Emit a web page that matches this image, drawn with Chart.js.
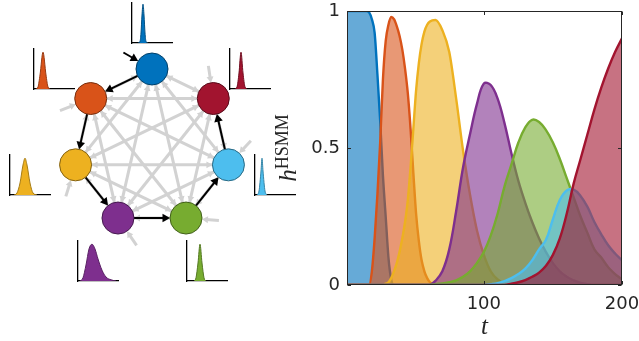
<!DOCTYPE html>
<html>
<head>
<meta charset="utf-8">
<script src="https://cdn.jsdelivr.net/npm/chart.js@4/dist/chart.umd.min.js"></script>
<style>
html,body{margin:0;padding:0;background:#fff;width:639px;height:341px;overflow:hidden;position:relative}
canvas{position:absolute}
#ylab{position:absolute;left:287px;top:148px;transform:translate(-50%,-50%) rotate(-90deg);white-space:nowrap;
  font-family:'Liberation Serif','DejaVu Serif',serif;color:#262626;line-height:1}
#ylab i{font-size:25px}
#ylab sup{font-size:18px;position:relative;top:-2px;vertical-align:top}
</style>
</head>
<body>
<canvas id="graph" width="280" height="341" style="left:0;top:0;width:280px;height:341px"></canvas>
<canvas id="main" width="359" height="341" style="left:280px;top:0;width:359px;height:341px"></canvas>
<div id="ylab"><i>h</i><sup>HSMM</sup></div>
<script>
// ---------------- data: main plot ----------------
const t = [1,3,5,7,9,11,13,15,17,19,21,23,25,27,29,31,33,35,37,39,41,43,45,47,49,51,53,55,57,59,61,
  65,70,75,80,85,90,95,100,105,110,115,120,125,130,135,140,145,150,155,160,165,170,175,180,185,190,195,200];

const hBlue = [1,1,1,1,1,1,1,1, 0.995,0.97,0.92,0.77,0.6,0.4,0.25,0.1,0.02,
  0,0,0,0,0,0,0,0,0,0,0,0,0,0,
  0,0,0,0,0,0,0,0,0,0,0,0,0,0,0,0,0,0,0,0,0,0,0,0,0,0,0,0];
const hOrange = [0,0,0,0,0,0,0,0, 0,0.05,0.17,0.33,0.52,0.75,0.89,0.95,0.978,0.97,0.945,0.91,0.86,0.79,0.7,0.57,0.41,0.26,0.16,0.09,0.05,0.025,0.01,
  0,0,0,0,0,0,0,0,0,0,0,0,0,0,0,0,0,0,0,0,0,0,0,0,0,0,0,0];
const hYellow = [0,0,0,0,0,0,0,0,0,0,0,0,0,0, 0.005,0.01,0.025,0.05,0.08,0.12,0.17,0.23,0.31,0.43,0.57,0.71,0.81,0.88,0.925,0.95,0.962,
  0.967,0.93,0.85,0.68,0.49,0.33,0.2,0.11,0.05,0.02,0.005,
  0,0,0,0,0,0,0,0,0,0,0,0,0,0,0,0,0];
const hPurple = [0,0,0,0,0,0,0,0,0,0,0,0,0,0,0,0,0,0,0,0,0,0,0,0,0,0,0,0,0,0,0,
  0.015,0.05,0.13,0.27,0.43,0.55,0.66,0.735,0.73,0.68,0.59,0.48,0.38,0.3,0.23,0.17,0.12,0.08,0.05,0.03,0.017,0.008,0.003,
  0,0,0,0,0];
const hGreen = [0,0,0,0,0,0,0,0,0,0,0,0,0,0,0,0,0,0,0,0,0,0,0,0,0,0,0,0,0,0,0,
  0.003,0.006,0.01,0.017,0.03,0.05,0.08,0.12,0.18,0.26,0.36,0.44,0.52,0.575,0.603,0.595,0.565,0.52,0.46,0.39,0.32,0.25,0.19,0.13,0.1,0.065,0.04,0.02];
const hCyan = [0,0,0,0,0,0,0,0,0,0,0,0,0,0,0,0,0,0,0,0,0,0,0,0,0,0,0,0,0,0,0,
  0,0,0,0,0,0,0,0,
  0.003,0.007,0.014,0.025,0.04,0.06,0.09,0.13,0.165,0.24,0.31,0.345,0.348,0.325,0.285,0.23,0.185,0.145,0.115,0.09];
const hRed = [0,0,0,0,0,0,0,0,0,0,0,0,0,0,0,0,0,0,0,0,0,0,0,0,0,0,0,0,0,0,0,
  0,0,0,0,0,0,0,0,0,0,0,
  0.005,0.01,0.018,0.03,0.045,0.07,0.11,0.17,0.26,0.37,0.46,0.55,0.64,0.72,0.79,0.85,0.9];

const xTickValues = [100, 200];
const yTickValues = [0, 0.5, 1];

// ---------------- data: duration distributions (insets) ----------------
// [offset, relative height] pairs, node order: blue, dark red, light blue, green, purple, yellow, orange
const durBlue   = [[6,0],[8,0.04],[9,0.25],[10,0.7],[11,0.97],[12,0.7],[13,0.25],[14,0.04],[16,0]];
const durRed    = [[5,0],[7,0.05],[9,0.4],[11,0.92],[13,0.4],[15,0.05],[17,0]];
const durCyan   = [[2,0],[4,0.1],[6,0.6],[7,0.92],[8,0.6],[10,0.1],[12,0]];
const durGreen  = [[7,0],[9,0.08],[11,0.45],[13,0.92],[15,0.45],[17,0.08],[19,0]];
const durPurple = [[2,0],[5,0.08],[8,0.4],[11,0.8],[14,0.92],[17,0.8],[20,0.55],[24,0.27],[28,0.1],[33,0.03],[38,0]];
const durYellow = [[4,0],[7,0.05],[10,0.3],[13,0.75],[15,0.92],[17,0.75],[20,0.3],[23,0.05],[27,0]];
const durOrange = [[2,0],[4,0.05],[6,0.35],[9,0.92],[12,0.35],[14,0.05],[16,0]];

// ---------------- styles ----------------
const seriesColors = ['#0072BD','#D95319','#EDB120','#7E2F8E','#77AC30','#4DBEEE','#A2142F'];
const seriesData = [hBlue,hOrange,hYellow,hPurple,hGreen,hCyan,hRed];
function rgba(hex,a){const n=parseInt(hex.slice(1),16);return `rgba(${n>>16},${(n>>8)&255},${n&255},${a})`;}
function shade(hex,f){const n=parseInt(hex.slice(1),16);const c=[n>>16,(n>>8)&255,n&255].map(v=>Math.round(v*f));return `rgb(${c[0]},${c[1]},${c[2]})`;}
const noPad = s=>{s.paddingLeft=0;s.paddingRight=0;s.paddingTop=0;s.paddingBottom=0;};

// ---------------- main plot ----------------
const boxPlugin = {
  id:'box',
  afterDatasetsDraw(chart){
    const {ctx, chartArea:a, scales:{x,y}} = chart;
    ctx.save();
    ctx.strokeStyle='#262626'; ctx.lineWidth=1;
    const L=Math.round(a.left)+0.5, R=Math.round(a.right)-0.5, T=Math.round(a.top)+0.5, B=Math.round(a.bottom)-0.5;
    ctx.strokeRect(L,T,R-L,B-T);
    ctx.beginPath();
    xTickValues.forEach(v=>{const p=Math.round(x.getPixelForValue(v))+0.5;ctx.moveTo(p,T);ctx.lineTo(p,T+3.5);ctx.moveTo(p,B);ctx.lineTo(p,B-3.5);});
    yTickValues.forEach(v=>{const p=Math.round(y.getPixelForValue(v))+0.5;ctx.moveTo(L,p);ctx.lineTo(L+3.5,p);ctx.moveTo(R,p);ctx.lineTo(R-3.5,p);});
    ctx.stroke();
    ctx.restore();
  }
};

new Chart(document.getElementById('main'), {
  type:'line',
  data:{
    datasets: seriesData.map((vals,i)=>({
      data: vals.map((v,k)=>({x:t[k], y:v})),
      borderColor: seriesColors[i],
      backgroundColor: rgba(seriesColors[i],0.6),
      fill:'origin',
      borderWidth:2.4,
      pointRadius:0,
      cubicInterpolationMode: i < 3 ? 'monotone' : 'default',
      tension: 0.4,
      order: seriesData.length - i
    }))
  },
  options:{
    responsive:false, animation:false, devicePixelRatio:1,
    layout:{padding:{top:11,right:17,left:0,bottom:0}, autoPadding:false},
    plugins:{legend:{display:false}, tooltip:{enabled:false}},
    scales:{
      x:{type:'linear', min:1, max:200,
        afterBuildTicks:s=>{s.ticks=xTickValues.map(v=>({value:v}));},
        afterFit:s=>{s.height=56; noPad(s);},
        grid:{display:false, drawTicks:false}, border:{display:false},
        ticks:{font:{family:'DejaVu Sans',size:18}, color:'#262626', padding:9, maxRotation:0, autoSkip:false, callback:v=>String(v)},
        title:{display:true, text:'t', color:'#262626', font:{family:'Liberation Serif',size:25,style:'italic'}, padding:{top:0,bottom:-1}}
      },
      y:{type:'linear', min:0, max:1,
        afterBuildTicks:s=>{s.ticks=yTickValues.map(v=>({value:v}));},
        afterFit:s=>{s.width=67; noPad(s);},
        grid:{display:false, drawTicks:false}, border:{display:false},
        ticks:{font:{family:'DejaVu Sans',size:18}, color:'#262626', padding:7, autoSkip:false, callback:v=>String(v)}
      }
    }
  },
  plugins:[boxPlugin]
});

// ---------------- state graph ----------------
const G = {cx:152, cy:147.4, R:78.4, w:280, h:341, node:16};
const nodeColors = ['#0072BD','#A2142F','#4DBEEE','#77AC30','#7E2F8E','#EDB120','#D95319'];
const cyclePath = [0,6,5,4,3,2,1];   // black transitions
const nodes = nodeColors.map((c,k)=>{const a=(90-k*360/7)*Math.PI/180;return {x:Math.cos(a), y:Math.sin(a), ang:a};});
const u = px=>px/G.R;
function along(p,q,d){const dx=q.x-p.x,dy=q.y-p.y,L=Math.hypot(dx,dy);return {x:p.x+dx/L*d,y:p.y+dy/L*d};}
function rot(p,q){return Math.atan2(-(q.y-p.y), q.x-p.x)*180/Math.PI+90;}

const grayEdges=[], grayHeads=[], grayRot=[];
for(let i=0;i<7;i++) for(let j=i+1;j<7;j++){
  const a=nodes[i], b=nodes[j];
  grayEdges.push([along(a,b,u(G.node)), along(b,a,u(G.node))]);
  grayHeads.push(along(b,a,u(G.node+4))); grayRot.push(rot(a,b));
  grayHeads.push(along(a,b,u(G.node+4))); grayRot.push(rot(b,a));
}
const blackEdges=[], blackHeads=[], blackRot=[];
for(let s=0;s<cyclePath.length-1;s++){
  const a=nodes[cyclePath[s]], b=nodes[cyclePath[s+1]];
  blackEdges.push([along(a,b,u(G.node)), along(b,a,u(G.node+5))]);
  blackHeads.push(along(b,a,u(G.node+5))); blackRot.push(rot(a,b));
}
// incoming stubs
nodes.forEach((n,k)=>{
  const a=n.ang+Math.PI/3;
  const start={x:n.x+Math.cos(a)*u(33), y:n.y+Math.sin(a)*u(33)};
  if(k===0){
    blackEdges.push([start, along(n,start,u(G.node+5))]);
    blackHeads.push(along(n,start,u(G.node+5))); blackRot.push(rot(start,n));
  } else {
    grayEdges.push([start, along(n,start,u(G.node+4))]);
    grayHeads.push(along(n,start,u(G.node+4))); grayRot.push(rot(start,n));
  }
});

const gDatasets=[];
grayEdges.forEach(e=>gDatasets.push({type:'scatter',showLine:true,data:e,borderColor:'#D2D2D2',borderWidth:3,pointRadius:0,order:5}));
gDatasets.push({type:'scatter',data:grayHeads,pointStyle:'triangle',rotation:grayRot,pointRadius:4,backgroundColor:'#D2D2D2',borderWidth:0,order:4});
blackEdges.forEach(e=>gDatasets.push({type:'scatter',showLine:true,data:e,borderColor:'#000',borderWidth:2,pointRadius:0,order:3}));
gDatasets.push({type:'scatter',data:blackHeads,pointStyle:'triangle',rotation:blackRot,pointRadius:5,backgroundColor:'#000',borderWidth:0,order:2});
gDatasets.push({type:'scatter',data:nodes.map(n=>({x:n.x,y:n.y})),pointRadius:G.node,backgroundColor:nodeColors,
  borderColor:nodeColors.map(c=>shade(c,0.55)),borderWidth:1,order:1});

new Chart(document.getElementById('graph'), {
  type:'scatter',
  data:{datasets:gDatasets},
  options:{
    responsive:false, animation:false, devicePixelRatio:1,
    layout:{padding:0, autoPadding:false},
    plugins:{legend:{display:false}, tooltip:{enabled:false}},
    scales:{
      x:{display:false, min:-G.cx/G.R, max:(G.w-G.cx)/G.R},
      y:{display:false, min:-(G.h-G.cy)/G.R, max:G.cy/G.R}
    }
  }
});

// ---------------- insets ----------------
const insetPos = [{x:132,y:43},{x:230,y:89},{x:255,y:195},{x:187,y:281},{x:78,y:281},{x:10,y:195},{x:34,y:89}];
const insetCurves = [durBlue,durRed,durCyan,durGreen,durPurple,durYellow,durOrange];
insetCurves.forEach((pts,k)=>{
  const c=document.createElement('canvas');
  c.width=46;c.height=46;
  c.style.cssText=`left:${insetPos[k].x-3}px;top:${insetPos[k].y-43}px;width:46px;height:46px`;
  document.body.appendChild(c);
  new Chart(c,{
    type:'line',
    data:{datasets:[{data:pts.map(([x,y])=>({x,y})),fill:'origin',backgroundColor:nodeColors[k],
      borderColor:shade(nodeColors[k],0.7),borderWidth:1,pointRadius:0,cubicInterpolationMode:'monotone'}]},
    options:{
      responsive:false, animation:false, devicePixelRatio:1,
      layout:{padding:{top:3,right:3,left:0,bottom:0}, autoPadding:false},
      plugins:{legend:{display:false}, tooltip:{enabled:false}},
      scales:{
        x:{type:'linear',min:0,max:40,afterFit:s=>{s.height=3;noPad(s);},grid:{display:false,drawTicks:false},ticks:{display:false},border:{display:true,color:'#000',width:1.3}},
        y:{type:'linear',min:0,max:1,afterFit:s=>{s.width=3;noPad(s);},grid:{display:false,drawTicks:false},ticks:{display:false},border:{display:true,color:'#000',width:1.3}}
      }
    }
  });
});
</script>
</body>
</html>
